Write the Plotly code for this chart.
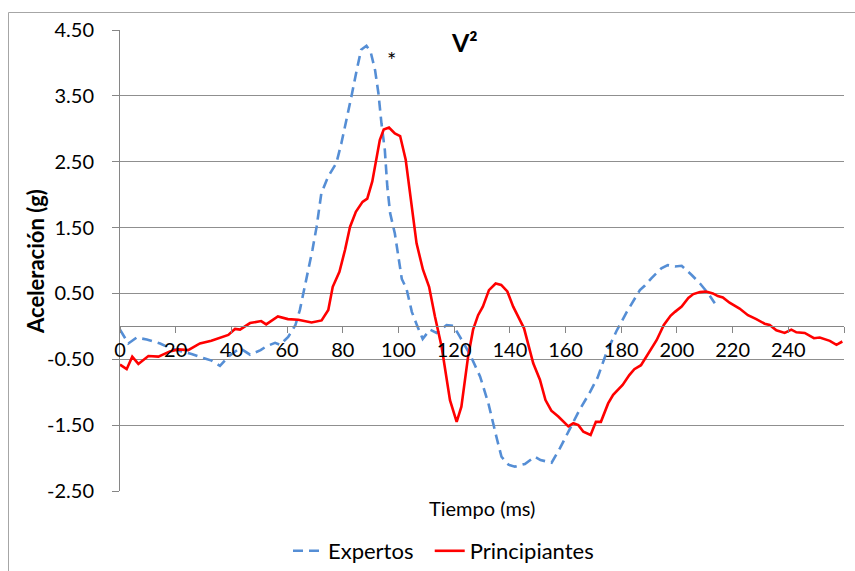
import plotly.graph_objects as go

# Principiantes (solid red): time (ms) and acceleration (g)
t_principiantes = [
    0, 2.4, 4.4, 6.6, 10.2, 13.8, 17.9, 20.9, 24.5, 28.7, 32.8, 36.4, 38.9, 41.3,
    43.1, 46.7, 50.7, 52.5, 56.7, 60.3, 64.0, 68.8, 72.4, 74.8, 76.4, 78.8, 80.8,
    82.6, 84.7, 87.1, 88.8, 90.6, 92.1, 93.3, 94.7, 96.6, 98.7, 100.6, 102.6,
    104.6, 106.5, 108.8, 111.0, 113.1, 115.5, 118.5, 120.9, 122.6, 125.0, 126.8,
    128.6, 130.3, 132.5, 134.9, 136.9, 139.1, 141.2, 145.1, 148.4, 150.8, 152.8,
    154.9, 157.4, 161.0, 162.8, 164.6, 166.4, 169.0, 170.9, 172.7, 175.3, 177.1,
    180.5, 182.9, 184.7, 187.1, 189.7, 192.7, 195.3, 197.7, 199.3, 201.7, 204.1,
    205.9, 208.3, 210.5, 212.9, 214.7, 216.5, 218.9, 222.5, 225.5, 228.5, 231.5,
    233.3, 235.7, 238.7, 241.1, 242.9, 245.9, 249.2, 251.3, 254.9, 257.3, 259.4,
]
v_principiantes = [
    -0.58, -0.65, -0.46, -0.57, -0.45, -0.46, -0.38, -0.35, -0.36, -0.26, -0.22,
    -0.16, -0.13, -0.04, -0.05, 0.05, 0.08, 0.03, 0.15, 0.11, 0.10, 0.06, 0.09,
    0.25, 0.60, 0.83, 1.16, 1.51, 1.74, 1.89, 1.94, 2.20, 2.58, 2.83, 2.99, 3.02,
    2.93, 2.89, 2.53, 1.87, 1.26, 0.86, 0.60, 0.15, -0.31, -1.12, -1.45, -1.22,
    -0.46, -0.05, 0.17, 0.30, 0.55, 0.65, 0.63, 0.53, 0.30, -0.03, -0.56, -0.81,
    -1.12, -1.28, -1.37, -1.52, -1.47, -1.50, -1.60, -1.65, -1.45, -1.45, -1.17,
    -1.04, -0.89, -0.74, -0.65, -0.59, -0.41, -0.21, 0.02, 0.16, 0.22, 0.30, 0.43,
    0.49, 0.52, 0.53, 0.50, 0.46, 0.44, 0.36, 0.27, 0.17, 0.11, 0.04, 0.02, -0.06,
    -0.10, -0.05, -0.09, -0.10, -0.18, -0.17, -0.22, -0.28, -0.23,
]

# Expertos (dashed blue): time (ms) and acceleration (g)
t_expertos = [
    0, 3.0, 6.0, 9.6, 14.4, 18.0, 22.1, 25.7, 29.9, 32.9, 35.9, 38.9, 43.1, 46.7,
    50.5, 52.7, 55.7, 57.5, 60.4, 63.0, 64.6, 65.8, 67.8, 69.1, 70.6, 72.3, 74.7,
    77.7, 79.5, 81.4, 83.2, 85.0, 86.6, 88.5, 90.0, 91.6, 92.8, 93.9, 95.1, 96.0,
    97.0, 98.7, 99.9, 101.2, 102.9, 104.8, 106.8, 108.7, 111.3, 113.7, 117.3,
    119.7, 122.1, 125.7, 129.3, 132.3, 135.3, 137.0, 139.5, 141.8, 145.4, 149.0,
    151.0, 155.0, 158.0, 161.3, 165.0, 168.5, 171.5, 174.7, 178.3, 182.0, 184.9,
    186.7, 188.5, 190.8, 194.4, 196.7, 199.3, 201.7, 205.3, 208.3, 211.2, 213.6,
]
v_expertos = [
    -0.05, -0.26, -0.17, -0.20, -0.26, -0.33, -0.38, -0.42, -0.48, -0.52, -0.60,
    -0.46, -0.33, -0.43, -0.36, -0.30, -0.25, -0.28, -0.16, 0.02, 0.25, 0.50, 0.86,
    1.16, 1.51, 2.02, 2.27, 2.48, 2.78, 3.13, 3.51, 3.89, 4.20, 4.26, 4.17, 3.89,
    3.54, 3.08, 2.68, 2.12, 1.72, 1.41, 1.06, 0.72, 0.57, 0.22, 0.00, -0.19, -0.05,
    -0.10, 0.02, 0.01, -0.16, -0.43, -0.76, -1.17, -1.70, -1.98, -2.10, -2.13,
    -2.09, -1.98, -2.03, -2.07, -1.85, -1.57, -1.27, -1.02, -0.78, -0.40, -0.07,
    0.22, 0.43, 0.55, 0.62, 0.73, 0.88, 0.93, 0.91, 0.92, 0.78, 0.65, 0.50, 0.35,
]

x_ticks = [0, 20, 40, 60, 80, 100, 120, 140, 160, 180, 200, 220, 240, 260]
x_tick_labels = ["0", "20", "40", "60", "80", "100", "120", "140", "160", "180",
                 "200", "220", "240", ""]
y_ticks = [-2.5, -1.5, -0.5, 0.5, 1.5, 2.5, 3.5, 4.5]
y_tick_labels = ["-2.50", "-1.50", "-0.50", "0.50", "1.50", "2.50", "3.50", "4.50"]

Y_MIN, Y_MAX = -2.5, 4.5
X_MIN, X_MAX = 0, 260

FONT = "Lato"
AXIS_GREY = "#868686"
GRID_GREY = "#8f8f8f"
NBSP = "\u00a0"

W, H = 855, 571
ML, MR, MT, MB = 120, 11, 30, 80
PW = W - ML - MR
PH = H - MT - MB


def px_to_paper_x(px):
    return (px - ML) / PW


def px_to_paper_y(py):
    return (H - MB - py) / PH


fig = go.Figure()

fig.add_trace(go.Scatter(
    x=t_expertos, y=v_expertos, mode="lines", name="Expertos" + NBSP * 2,
    line=dict(color="#558ED5", width=2.6, dash="10px,6px"),
))
fig.add_trace(go.Scatter(
    x=t_principiantes, y=v_principiantes, mode="lines", name="Principiantes",
    line=dict(color="#FF0000", width=2.6),
))

fig.update_layout(
    width=W, height=H,
    margin=dict(l=ML, r=MR, t=MT, b=MB, autoexpand=False),
    paper_bgcolor="white", plot_bgcolor="white",
    font=dict(family=FONT, color="black", size=20),
    showlegend=True,
    legend=dict(
        orientation="h", x=px_to_paper_x(288), xanchor="left",
        y=px_to_paper_y(551), yanchor="middle",
        font=dict(size=22, family=FONT), bgcolor="rgba(0,0,0,0)",
    ),
    xaxis=dict(
        range=[X_MIN, X_MAX], anchor="free",
        position=(0 - Y_MIN) / (Y_MAX - Y_MIN),
        tickmode="array", tickvals=x_ticks, ticktext=x_tick_labels,
        ticks="outside", ticklen=6, tickcolor=AXIS_GREY, tickwidth=1,
        showline=True, linecolor=AXIS_GREY, linewidth=1,
        showgrid=False, zeroline=False,
        tickfont=dict(size=20, family=FONT),
    ),
    yaxis=dict(
        range=[Y_MIN, Y_MAX], domain=[0, 1],
        tickmode="array", tickvals=y_ticks, ticktext=y_tick_labels,
        ticks="outside", ticklen=7, tickcolor=AXIS_GREY, tickwidth=1,
        ticklabelstandoff=14,
        showline=True, linecolor=AXIS_GREY, linewidth=1,
        showgrid=True, gridcolor=GRID_GREY, gridwidth=1,
        zeroline=False,
        tickfont=dict(size=20, family=FONT),
    ),
    shapes=[
        # chart frame
        dict(type="rect", xref="paper", yref="paper", layer="below",
             x0=px_to_paper_x(8.5), x1=px_to_paper_x(W + 5),
             y0=px_to_paper_y(H + 5), y1=px_to_paper_y(12.5),
             line=dict(color="#a6a6a6", width=1), fillcolor="rgba(0,0,0,0)"),
    ],
    annotations=[
        dict(text="<b>V²</b>", xref="paper", yref="paper",
             x=px_to_paper_x(464), y=px_to_paper_y(42),
             xanchor="center", yanchor="middle", showarrow=False,
             font=dict(size=25, family=FONT), bgcolor="white", borderpad=2),
        dict(text="*", xref="paper", yref="paper",
             x=px_to_paper_x(391), y=px_to_paper_y(60),
             xanchor="center", yanchor="middle", showarrow=False,
             font=dict(size=22, family=FONT, color="black")),
        dict(text="<b>Aceleración (g)</b>", xref="paper", yref="paper",
             x=px_to_paper_x(35), y=px_to_paper_y(262), textangle=-90,
             xanchor="center", yanchor="middle", showarrow=False,
             font=dict(size=22, family=FONT)),
        dict(text="Tiempo (ms)", xref="paper", yref="paper",
             x=px_to_paper_x(482), y=px_to_paper_y(508),
             xanchor="center", yanchor="middle", showarrow=False,
             font=dict(size=20, family=FONT)),
    ],
)

fig.write_html("out.html")
